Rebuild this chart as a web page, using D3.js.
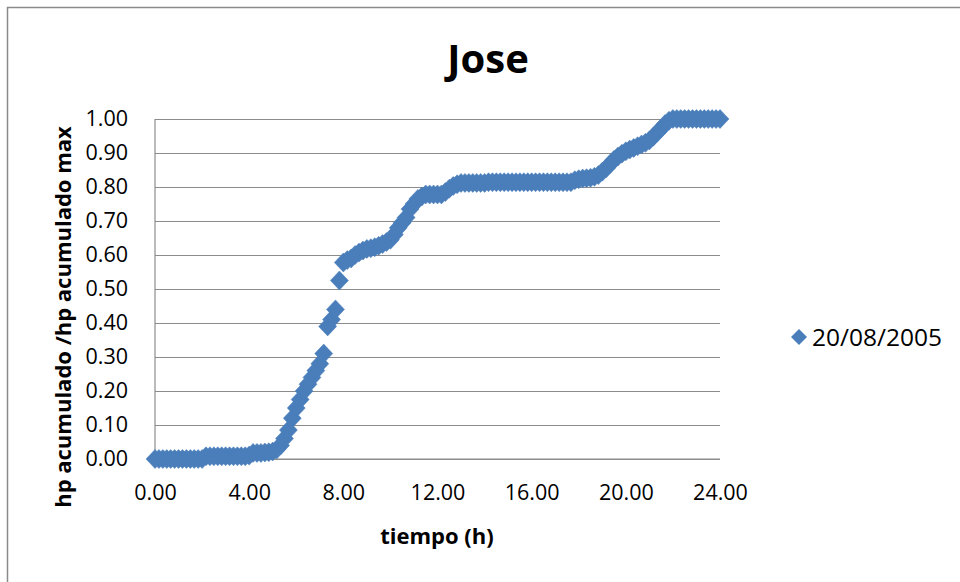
<!DOCTYPE html>
<html>
<head>
<meta charset="utf-8">
<script src="https://cdn.jsdelivr.net/npm/d3@7"></script>
<style>
  html, body { margin: 0; padding: 0; background: #fff; }
  svg { display: block; }
  text { font-family: "Open Sans", Lato, sans-serif; fill: #000; }
</style>
</head>
<body>
<svg id="chart" width="960" height="582"></svg>
<script>
// Time of day, minutes since 00:00
const minutes = [
  0, 10, 20, 30, 40, 50, 60, 70, 80, 90, 100, 110, 120, 130, 140, 150, 160, 170, 180, 190,
  200, 210, 220, 230, 240, 250, 260, 270, 280, 290, 300, 310, 320, 330, 340, 350, 360, 370, 380, 390,
  400, 410, 420, 430, 440, 450, 460, 470, 480, 490, 500, 510, 520, 530, 540, 550, 560, 570, 580, 590,
  600, 610, 620, 630, 640, 650, 660, 670, 680, 690, 700, 710, 720, 730, 740, 750, 760, 770, 780, 790,
  800, 810, 820, 830, 840, 850, 860, 870, 880, 890, 900, 910, 920, 930, 940, 950, 960, 970, 980, 990,
  1000, 1010, 1020, 1030, 1040, 1050, 1060, 1070, 1080, 1090, 1100, 1110, 1120, 1130, 1140, 1150, 1160, 1170, 1180, 1190,
  1200, 1210, 1220, 1230, 1240, 1250, 1260, 1270, 1280, 1290, 1300, 1310, 1320, 1330, 1340, 1350, 1360, 1370, 1380, 1390,
  1400, 1410, 1420, 1430, 1440
];

// Accumulated rainfall height divided by the day's maximum
const hpRatio = [
  0, 0, 0, 0, 0, 0, 0, 0, 0, 0, 0, 0, 0, 0.008, 0.008, 0.008, 0.008, 0.008, 0.008, 0.008,
  0.008, 0.008, 0.008, 0.008, 0.010, 0.018, 0.018, 0.018, 0.019, 0.020, 0.022, 0.028, 0.040, 0.060, 0.085, 0.120, 0.150, 0.175, 0.200, 0.220,
  0.240, 0.260, 0.280, 0.310, 0.390, 0.410, 0.440, 0.525, 0.578, 0.585, 0.590, 0.600, 0.607, 0.613, 0.618, 0.620, 0.623, 0.627, 0.632, 0.638,
  0.645, 0.660, 0.680, 0.695, 0.710, 0.735, 0.750, 0.765, 0.772, 0.778, 0.778, 0.778, 0.778, 0.778, 0.785, 0.795, 0.803, 0.808, 0.812, 0.812,
  0.812, 0.812, 0.812, 0.812, 0.812, 0.814, 0.814, 0.814, 0.814, 0.814, 0.814, 0.814, 0.814, 0.814, 0.814, 0.814, 0.814, 0.814, 0.814, 0.814,
  0.814, 0.814, 0.814, 0.814, 0.814, 0.814, 0.814, 0.820, 0.823, 0.825, 0.826, 0.827, 0.830, 0.835, 0.845, 0.855, 0.868, 0.880, 0.890, 0.898,
  0.905, 0.910, 0.915, 0.920, 0.925, 0.930, 0.937, 0.948, 0.960, 0.972, 0.985, 0.995, 1.000, 1.000, 1.000, 1.000, 1.000, 1.000, 1.000, 1.000,
  1.000, 1.000, 1.000, 1.000, 1.000
];

const xTicks = [0, 4, 8, 12, 16, 20, 24];
const yTicks = [0, 0.1, 0.2, 0.3, 0.4, 0.5, 0.6, 0.7, 0.8, 0.9, 1.0];
const seriesName = "20/08/2005";
const chartTitle = "Jose";
const xTitle = "tiempo (h)";
const yTitle = "hp acumulado /hp acumulado max";

const points = minutes.map((m, i) => ({ t: m / 60, v: hpRatio[i] }));

const plot = { left: 155, right: 720, top: 119, bottom: 459 };
const markerColor = "#4a7ebb";
const gridColor = "#8c8c8c";

const svg = d3.select("#chart");

// Outer chart frame
svg.append("rect")
  .attr("x", 7.5).attr("y", 7.5)
  .attr("width", 980).attr("height", 600)
  .attr("fill", "#fff")
  .attr("stroke", "#8a8a8a")
  .attr("stroke-width", 1.5);

const x = d3.scaleLinear().domain([0, 24]).range([plot.left, plot.right]);
const y = d3.scaleLinear().domain([0, 1]).range([plot.bottom, plot.top]);

// Horizontal gridlines
svg.append("g")
  .attr("transform", `translate(${plot.left},0)`)
  .call(d3.axisLeft(y).tickValues(yTicks).tickSize(-(plot.right - plot.left)).tickFormat(""))
  .call(g => g.select(".domain").remove())
  .call(g => g.selectAll("line").attr("stroke", gridColor).attr("stroke-width", 1.2));

// Y axis labels
svg.append("g")
  .attr("transform", `translate(${plot.left},0)`)
  .call(d3.axisLeft(y).tickValues(yTicks).tickSize(0).tickPadding(27).tickFormat(d3.format(".2f")))
  .call(g => g.select(".domain").remove())
  .call(g => g.selectAll("text").attr("font-size", 21.5).attr("font-family", "'Open Sans', sans-serif"));

// X axis labels
svg.append("g")
  .attr("transform", `translate(0,${plot.bottom})`)
  .call(d3.axisBottom(x).tickValues(xTicks).tickSize(0).tickPadding(26).tickFormat(d3.format(".2f")))
  .call(g => g.select(".domain").remove())
  .call(g => g.selectAll("text").attr("font-size", 21.5).attr("font-family", "'Open Sans', sans-serif"));

// Axis lines
svg.append("line")
  .attr("x1", plot.left).attr("x2", plot.left)
  .attr("y1", plot.top).attr("y2", plot.bottom)
  .attr("stroke", gridColor).attr("stroke-width", 1.2);
svg.append("line")
  .attr("x1", plot.left).attr("x2", plot.right)
  .attr("y1", plot.bottom).attr("y2", plot.bottom)
  .attr("stroke", gridColor).attr("stroke-width", 1.2);

// Diamond marker
const diamond = "M0,-9.5L9,0L0,9.5L-9,0Z";

svg.append("g")
  .selectAll("path")
  .data(points)
  .join("path")
  .attr("d", diamond)
  .attr("transform", d => `translate(${x(d.t)},${y(d.v)})`)
  .attr("fill", markerColor)
  .attr("stroke", markerColor)
  .attr("stroke-width", 0.5);

// Title
svg.append("text")
  .attr("x", 488).attr("y", 73)
  .attr("text-anchor", "middle")
  .attr("font-size", 40)
  .attr("font-weight", "bold")
  .text(chartTitle);

// Axis titles
svg.append("text")
  .attr("x", 437).attr("y", 544)
  .attr("text-anchor", "middle")
  .attr("font-size", 22)
  .attr("font-weight", "bold")
  .text(xTitle);

svg.append("text")
  .attr("transform", "translate(71,317) rotate(-90)")
  .attr("text-anchor", "middle")
  .attr("font-size", 22)
  .attr("font-weight", "bold")
  .text(yTitle);

// Legend
const legend = svg.append("g").attr("transform", "translate(799,337)");
legend.append("path")
  .attr("d", "M0,-8L8,0L0,8L-8,0Z")
  .attr("fill", markerColor);
legend.append("text")
  .attr("x", 13).attr("y", 0)
  .attr("dy", "0.35em")
  .attr("font-size", 24.5)
  .text(seriesName);
</script>
</body>
</html>
